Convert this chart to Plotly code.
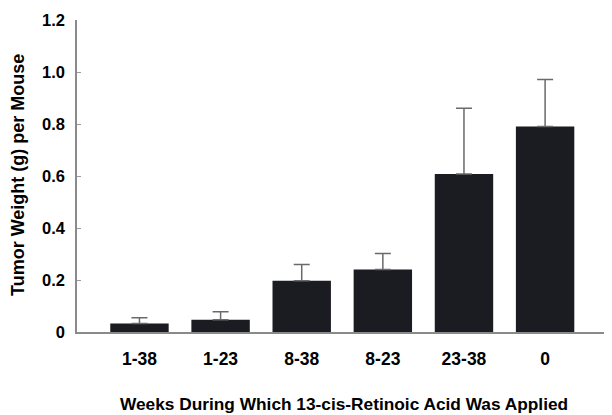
import plotly.graph_objects as go

categories = ["1-38", "1-23", "8-38", "8-23", "23-38", "0"]
tumor_weight = [0.033, 0.047, 0.197, 0.240, 0.608, 0.790]
error_plus = [0.022, 0.031, 0.063, 0.062, 0.253, 0.181]
y_ticks = [0, 0.2, 0.4, 0.6, 0.8, 1.0, 1.2]
y_tick_labels = ["0", "0.2", "0.4", "0.6", "0.8", "1.0", "1.2"]
x_title = "Weeks During Which 13-cis-Retinoic Acid Was Applied"
y_title = "Tumor Weight (g) per Mouse"

FONT = "Liberation Sans, Arial, sans-serif"
W, H = 612, 415
L, R, T, B = 69, 10, 12, 91
PW, PH = W - L - R, H - T - B

fig = go.Figure()
fig.add_trace(go.Bar(
    x=list(range(len(categories))),
    y=tumor_weight,
    width=0.72,
    marker=dict(color="#1b1b22", line=dict(width=0)),
    error_y=dict(type="data", symmetric=False, array=error_plus,
                 arrayminus=[0] * len(error_plus),
                 color="#6a6a6a", thickness=1.5, width=8),
))

fig.add_annotation(
    text=f"<b>{x_title}</b>", xref="paper", yref="paper",
    x=(336 - L) / PW, y=-(396 - (H - B)) / PH,
    xanchor="center", yanchor="middle", showarrow=False,
    font=dict(size=17.3, family=FONT, color="black"),
)
fig.add_annotation(
    text=f"<b>{y_title}</b>", xref="paper", yref="paper",
    x=-(L - 10) / PW, y=((H - B) - 167) / PH,
    xanchor="center", yanchor="middle", showarrow=False, textangle=-90,
    font=dict(size=18, family=FONT, color="black"),
)

fig.update_layout(
    width=W, height=H,
    margin=dict(l=L, r=R, t=T, b=B, autoexpand=False),
    paper_bgcolor="white", plot_bgcolor="white",
    showlegend=False,
    font=dict(family=FONT, size=14, color="black"),
    xaxis=dict(
        range=[-0.77, 5.80],
        tickmode="array",
        tickvals=list(range(len(categories))),
        ticktext=[f"<b>{c}</b>" for c in categories],
        tickfont=dict(size=17.5),
        showgrid=False, zeroline=False,
        showline=True, linecolor="#8a8a8a", linewidth=1.5,
        ticks="", ticklen=0,
        ticklabelstandoff=10,
        automargin=False,
    ),
    yaxis=dict(
        range=[0, 1.2],
        tickmode="array",
        tickvals=y_ticks,
        ticktext=[f"<b>{t}</b>" for t in y_tick_labels],
        tickfont=dict(size=16.5),
        showgrid=False, zeroline=False,
        showline=True, linecolor="#8a8a8a", linewidth=1.5,
        ticks="inside", ticklen=4, tickcolor="#9a9a9a", tickwidth=1,
        ticklabelstandoff=7,
        automargin=False,
    ),
)

fig.write_html("out.html")
